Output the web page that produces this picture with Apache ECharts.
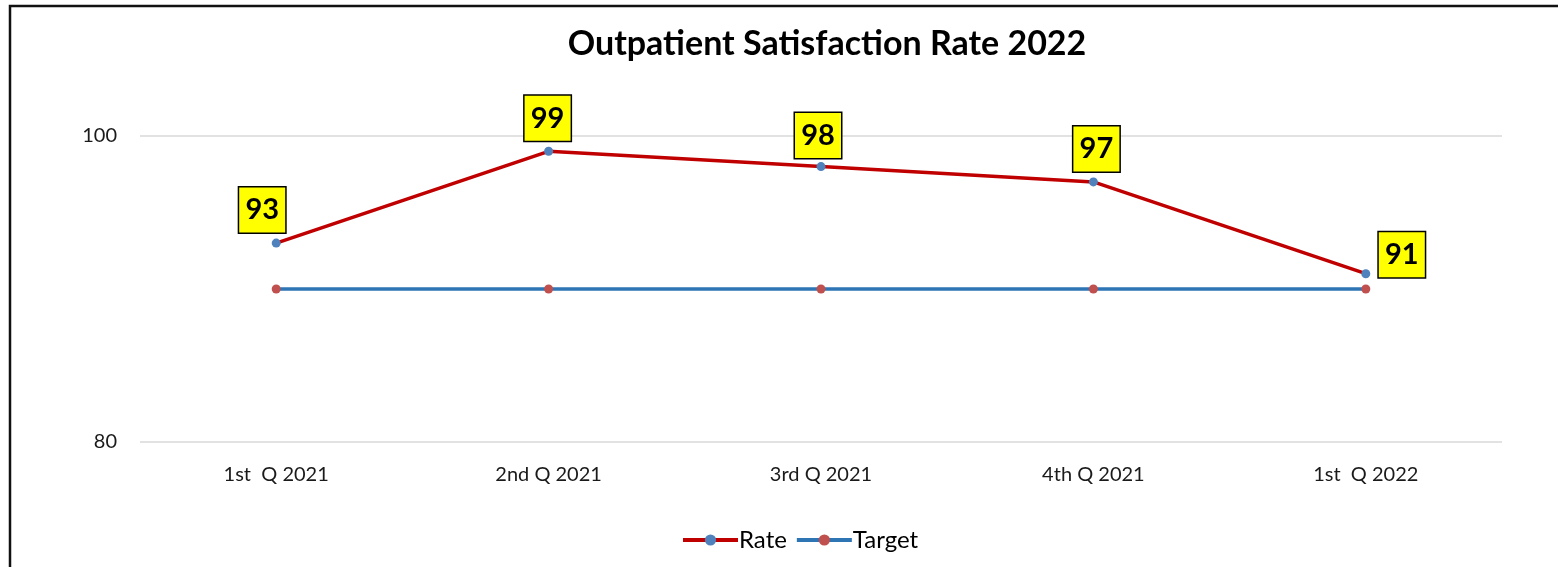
<!DOCTYPE html>
<html>
<head>
    <meta charset="UTF-8">
    <title>Outpatient Satisfaction Rate 2022</title>
    <script type="text/javascript" src="https://cdn.jsdelivr.net/npm/echarts@6/dist/echarts.min.js"></script>
    <style>
        html, body { margin: 0; padding: 0; background: #fff; }
    </style>
</head>
<body>

<div id="main" style="width: 1558px; height: 567px;"></div>
<script type="text/javascript">

    // quarters on the x axis
    var categories = ['1st  Q 2021', '2nd Q 2021', '3rd Q 2021', '4th Q 2021', '1st  Q 2022'];
    // satisfaction rate per quarter
    var rateValues = [93, 99, 98, 97, 91];
    // target line
    var targetValues = [90, 90, 90, 90, 90];
    // y axis bounds / tick step
    var yMin = 80;
    var yMax = 100;
    var yStep = 20;

    // where each yellow value box sits relative to its point (px)
    var labelOffsets = [[-14, -33], [-1, -33], [-3, -31], [3, -33], [36, -19]];

    var fontFam = 'Lato, "Open Sans", sans-serif';

    var myChart = echarts.init(document.getElementById('main'));

    var rateData = rateValues.map(function (v, i) {
        return {
            value: v,
            label: { offset: labelOffsets[i] }
        };
    });

    option = {
        animation: false,
        title: {
            text: 'Outpatient Satisfaction Rate 2022',
            left: 822,
            top: 22,
            textAlign: 'center',
            textStyle: {
                fontFamily: fontFam,
                fontWeight: 'bold',
                fontSize: 34,
                color: '#000'
            }
        },
        grid: {
            left: 140,
            right: 56,
            top: 136,
            bottom: 125
        },
        legend: {
            data: ['Rate', 'Target'],
            bottom: 10,
            left: 676,
            itemWidth: 55,
            itemHeight: 14,
            itemGap: 8,
            lineStyle: { width: 4 },
            textStyle: {
                fontFamily: fontFam,
                fontSize: 24,
                color: '#000',
                padding: [0, 0, 0, -4]
            }
        },
        xAxis: [{
            type: 'category',
            data: categories,
            axisLine: { show: false },
            axisTick: { show: false },
            axisLabel: {
                margin: 23,
                fontFamily: fontFam,
                fontSize: 20,
                color: '#1a1a1a'
            }
        }],
        yAxis: [{
            type: 'value',
            min: yMin,
            max: yMax,
            interval: yStep,
            axisLine: { show: false },
            axisTick: { show: false },
            splitLine: { lineStyle: { color: '#d9d9d9', width: 1.5 } },
            axisLabel: {
                margin: 23,
                fontFamily: fontFam,
                fontSize: 20,
                color: '#1a1a1a'
            }
        }],
        graphic: [{
            type: 'polyline',
            shape: { points: [[10, 567], [10, 6], [1558, 6]] },
            style: { stroke: '#111', lineWidth: 2.5, fill: 'none' },
            silent: true
        }],
        series: [{
            name: 'Target',
            type: 'line',
            data: targetValues,
            symbol: 'circle',
            symbolSize: 9,
            z: 2,
            lineStyle: { color: '#2e75b6', width: 3.5 },
            itemStyle: { color: '#c0504d' }
        }, {
            name: 'Rate',
            type: 'line',
            data: rateData,
            symbol: 'circle',
            symbolSize: 9,
            z: 3,
            lineStyle: { color: '#c00000', width: 3.5 },
            itemStyle: { color: '#4f81bd' },
            label: {
                show: true,
                position: 'inside',
                fontFamily: fontFam,
                fontWeight: 'bold',
                fontSize: 29,
                color: '#000',
                backgroundColor: '#ffff00',
                borderColor: '#000',
                borderWidth: 1.5,
                width: 46,
                height: 45,
                lineHeight: 45,
                align: 'center',
                verticalAlign: 'middle'
            }
        }]
    };

    myChart.setOption(option);

</script>

</body>
</html>
